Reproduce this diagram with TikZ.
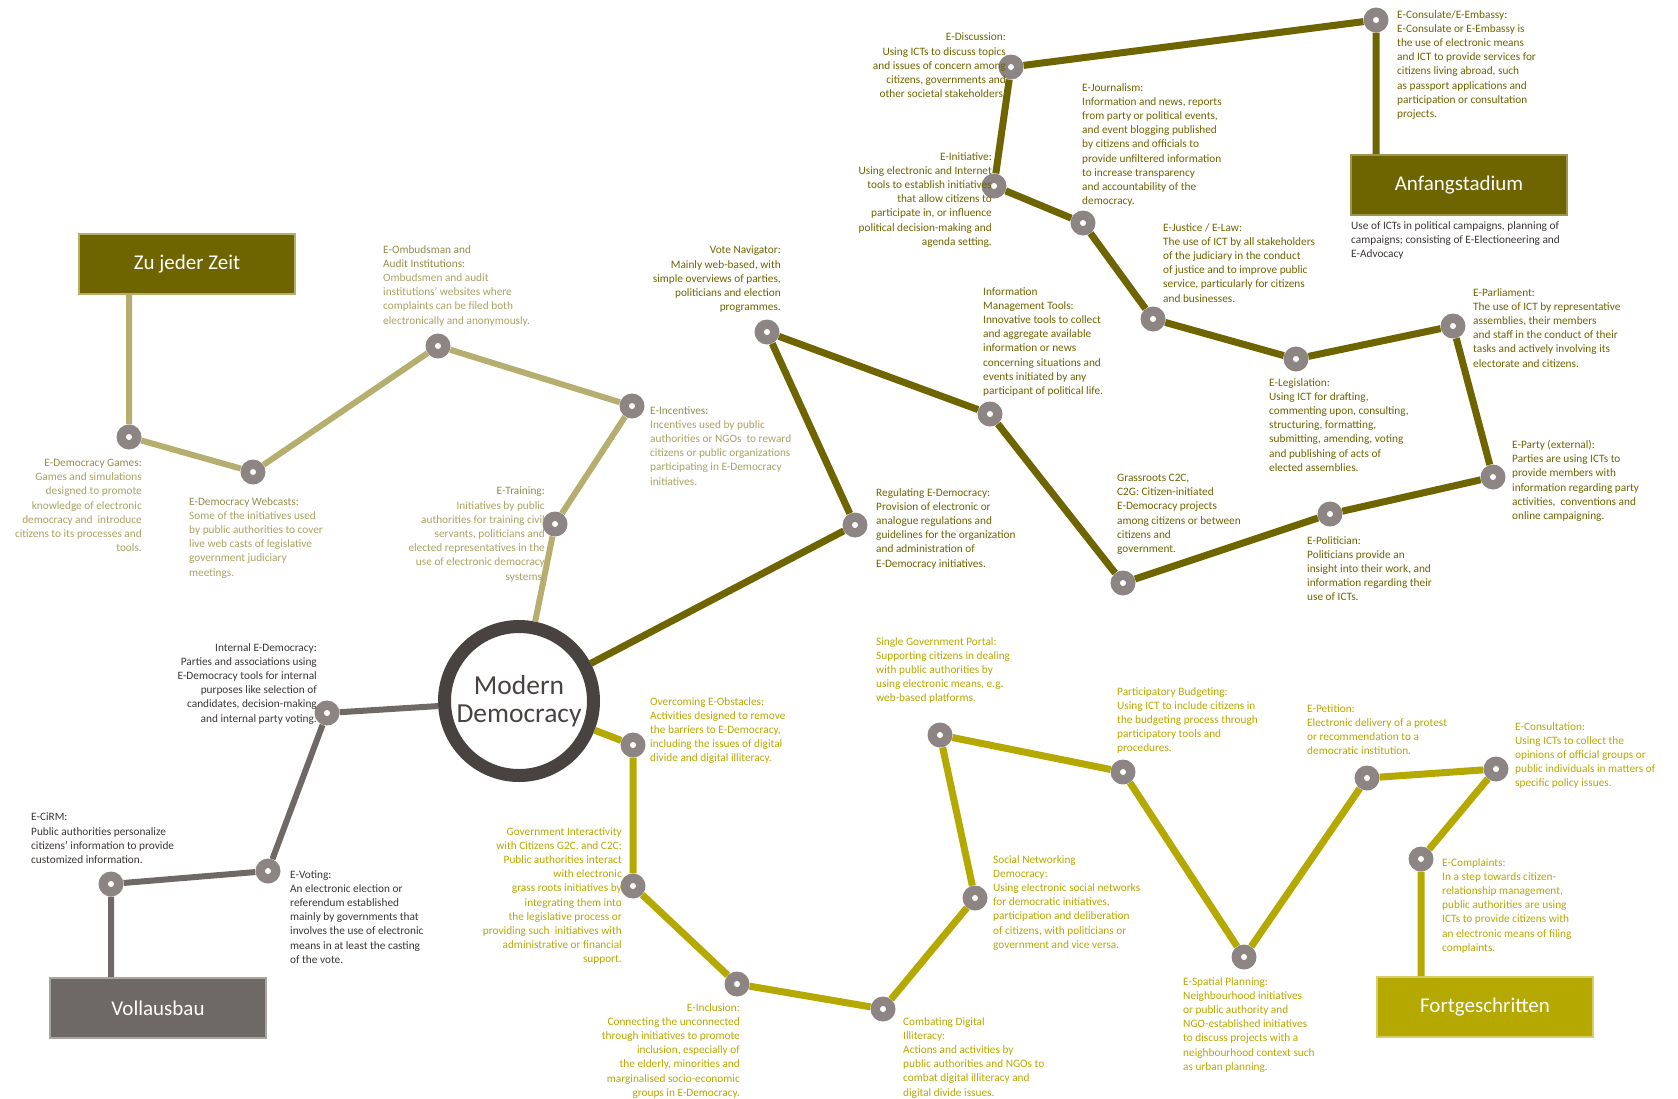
\documentclass[tikz,border=0pt]{standalone}
\usepackage{fontspec}
\setmainfont{Carlito}
\usepackage{tikz}
\usetikzlibrary{positioning}

\definecolor{zjzline}{HTML}{B5AE6E}
\definecolor{zjztext}{HTML}{A9A263}
\definecolor{zjzhead}{HTML}{948C4C}
\definecolor{anfline}{HTML}{6E6400}
\definecolor{anfborder}{HTML}{9E9650}
\definecolor{fortline}{HTML}{B5A800}
\definecolor{fortborder}{HTML}{D6CE66}
\definecolor{volline}{HTML}{6E6866}
\definecolor{volborder}{HTML}{A8A4A2}
\definecolor{voltext}{HTML}{3A3634}
\definecolor{dotgray}{HTML}{8C8584}
\definecolor{ringgray}{HTML}{484241}

\tikzset{
  dot/.style={circle, fill=dotgray, minimum size=25pt, inner sep=0pt,
    path picture={\fill[white] (path picture bounding box.center) circle (3pt);}},
  stagebox/.style={rectangle, minimum width=216pt, minimum height=60pt, line width=2pt,
    text=white, font=\fontsize{21}{25}\selectfont},
  txt/.style={inner sep=0pt, font=\fontsize{11.3}{14.2}\selectfont},
  txtl/.style={txt, anchor=north west, align=left},
  txtr/.style={txt, anchor=north east, align=right},
}

\begin{document}
\begin{tikzpicture}[x=1pt, y=-1pt]
    \useasboundingbox (0,0) rectangle (1678,1098);

    \node[circle, draw=ringgray, line width=13pt, minimum size=149pt, text=ringgray,
      align=center, font=\fontsize{27.5}{28.5}\selectfont] (md) at (519,701) {Modern\\Democracy};

    % stage boxes
    \node[stagebox, fill=anfline, draw=zjzline] (zjz) at (187,264) {Zu jeder Zeit};
    \node[stagebox, fill=anfline, draw=anfborder] (anf) at (1459,185) {Anfangstadium};
    \node[stagebox, fill=volline, draw=volborder] (voll) at (158,1008) {Vollausbau};
    \node[stagebox, fill=fortline, draw=fortborder] (fort) at (1485,1007) {Fortgeschritten};

    % points
    \node[dot] (games) at (129,437) {};
    \node[dot] (webcasts) at (253,472) {};
    \node[dot] (ombuds) at (438,346) {};
    \node[dot] (incent) at (632,406) {};
    \node[dot] (training) at (555,524) {};
    \node[dot] (internal) at (327,713) {};
    \node[dot] (voting) at (268,871) {};
    \node[dot] (cirm) at (111,884) {};
    \node[dot] (regul) at (855,525) {};
    \node[dot] (votenav) at (767,332) {};
    \node[dot] (infomgmt) at (990,414) {};
    \node[dot] (grass) at (1123,583) {};
    \node[dot] (politician) at (1330,514) {};
    \node[dot] (party) at (1493,477) {};
    \node[dot] (parliament) at (1453,326) {};
    \node[dot] (legislation) at (1296,359) {};
    \node[dot] (justice) at (1153,319) {};
    \node[dot] (journalism) at (1083,223) {};
    \node[dot] (initiative) at (994,186) {};
    \node[dot] (discussion) at (1011,67) {};
    \node[dot] (consulate) at (1376,20) {};
    \node[dot] (overcoming) at (633,745) {};
    \node[dot] (govint) at (633,886) {};
    \node[dot] (inclusion) at (737,984) {};
    \node[dot] (combating) at (883,1009) {};
    \node[dot] (social) at (975,898) {};
    \node[dot] (portal) at (940,735) {};
    \node[dot] (budget) at (1123,772) {};
    \node[dot] (spatial) at (1244,957) {};
    \node[dot] (petition) at (1367,778) {};
    \node[dot] (consultation) at (1496,769) {};
    \node[dot] (complaints) at (1421,859) {};

    % lines
    \draw[zjzline, line width=6pt] (md) -- (training) -- (incent) -- (ombuds) -- (webcasts) -- (games) -- (games |- zjz.south);
    \draw[volline, line width=6pt] (md) -- (internal) -- (voting) -- (cirm) -- (cirm |- voll.north);
    \draw[anfline, line width=7pt] (md) -- (regul) -- (votenav) -- (infomgmt) -- (grass) -- (politician) -- (party)
      -- (parliament) -- (legislation) -- (justice) -- (journalism) -- (initiative) -- (discussion) -- (consulate)
      -- (consulate |- anf.north);
    \draw[fortline, line width=7pt] (md) -- (overcoming) -- (govint) -- (inclusion) -- (combating) -- (social) -- (portal)
      -- (budget) -- (spatial) -- (petition) -- (consultation) -- (complaints) -- (complaints |- fort.north);

    % texts, Zu jeder Zeit
    \node[txtr, text=zjztext] (t-games) at (142,459) {\textcolor{zjzhead}{E-Democracy Games:}\\Games and simulations\\designed to promote\\knowledge of electronic\\democracy and \ introduce\\citizens to its processes and\\tools.};
    \node[txtl, text=zjztext] (t-webcasts) at (189,497) {\textcolor{zjzhead}{E-Democracy Webcasts:}\\Some of the initiatives used\\by public authorities to cover\\live web casts of legislative\\government judiciary\\meetings.};
    \node[txtl, text=zjztext] (t-ombuds) at (383,245) {\textcolor{zjzhead}{E-Ombudsman and}\\\textcolor{zjzhead}{Audit Institutions:}\\Ombudsmen and audit\\institutions’ websites where\\complaints can be filed both\\electronically and anonymously.};
    \node[txtl, text=zjztext] (t-incent) at (650,406) {\textcolor{zjzhead}{E-Incentives:}\\Incentives used by public\\authorities or NGOs \ to reward\\citizens or public organizations\\participating in E-Democracy\\initiatives.};
    \node[txtr, text=zjztext] (t-training) at (545,487) {\textcolor{zjzhead}{E-Training:}\\Initiatives by public\\authorities for training civil\\servants, politicians and\\elected representatives in the\\use of electronic democracy\\systems.};

    % texts, Anfangstadium
    \node[txtr, text=anfline] (t-votenav) at (781,246) {Vote Navigator:\\Mainly web-based, with\\simple overviews of parties,\\politicians and election\\programmes.};
    \node[txtr, text=anfline] (t-discussion) at (1006,33) {E-Discussion:\\Using ICTs to discuss topics\\and issues of concern among\\citizens, governments and\\other societal stakeholders.};
    \node[txtr, text=anfline] (t-initiative) at (992,152) {E-Initiative:\\Using electronic and Internet\\tools to establish initiatives\\that allow citizens to\\participate in, or influence\\political decision-making and\\agenda setting.};
    \node[txtl, text=anfline] (t-journalism) at (1082,83) {E-Journalism:\\Information and news, reports\\from party or political events,\\and event blogging published\\by citizens and officials to\\provide unfiltered information\\to increase transparency\\and accountability of the\\democracy.};
    \node[txtl, text=anfline] (t-justice) at (1163,223) {E-Justice / E-Law:\\The use of ICT by all stakeholders\\of the judiciary in the conduct\\of justice and to improve public\\service, particularly for citizens\\and businesses.};
    \node[txtl, text=anfline] (t-infomgmt) at (983,287) {Information\\Management Tools:\\Innovative tools to collect\\and aggregate available\\information or news\\concerning situations and\\events initiated by any\\participant of political life.};
    \node[txtl, text=anfline] (t-consulate) at (1397,10) {E-Consulate/E-Embassy:\\E-Consulate or E-Embassy is\\the use of electronic means\\and ICT to provide services for\\citizens living abroad, such\\as passport applications and\\participation or consultation\\projects.};
    \node[txtl, text=voltext] (t-anf) at (1351,221) {Use of ICTs in political campaigns, planning of\\campaigns; consisting of E-Electioneering and\\E-Advocacy};
    \node[txtl, text=anfline] (t-parliament) at (1473,288) {E-Parliament:\\The use of ICT by representative\\assemblies, their members\\and staff in the conduct of their\\tasks and actively involving its\\electorate and citizens.};
    \node[txtl, text=anfline] (t-legislation) at (1269,378) {E-Legislation:\\Using ICT for drafting,\\commenting upon, consulting,\\structuring, formatting,\\submitting, amending, voting\\and publishing of acts of\\elected assemblies.};
    \node[txtl, text=anfline] (t-party) at (1512,440) {E-Party (external):\\Parties are using ICTs to\\provide members with\\information regarding party\\activities, \ conventions and\\online campaigning.};
    \node[txtl, text=anfline] (t-politician) at (1307,536) {E-Politician:\\Politicians provide an\\insight into their work, and\\information regarding their\\use of ICTs.};
    \node[txtl, text=anfline] (t-grass) at (1117,474) {Grassroots C2C,\\C2G: Citizen-initiated\\E-Democracy projects\\among citizens or between\\citizens and\\government.};
    \node[txtl, text=anfline] (t-regul) at (876,488) {Regulating E-Democracy:\\Provision of electronic or\\analogue regulations and\\guidelines for the organization\\and administration of\\E-Democracy initiatives.};

    % texts, Vollausbau
    \node[txtr, text=voltext] (t-internal) at (317,643) {Internal E-Democracy:\\Parties and associations using\\E-Democracy tools for internal\\purposes like selection of\\candidates, decision-making\\and internal party voting.};
    \node[txtl, text=voltext] (t-cirm) at (31,813) {E-CiRM:\\Public authorities personalize\\citizens’ information to provide\\customized information.};
    \node[txtl, text=voltext] (t-voting) at (290,870) {E-Voting:\\An electronic election or\\referendum established\\mainly by governments that\\involves the use of electronic\\means in at least the casting\\of the vote.};

    % texts, Fortgeschritten
    \node[txtl, text=fortline] (t-overcoming) at (650,697) {Overcoming E-Obstacles:\\Activities designed to remove\\the barriers to E-Democracy,\\including the issues of digital\\divide and digital illiteracy.};
    \node[txtr, text=fortline] (t-govint) at (622,827) {Government Interactivity\\with Citizens G2C, and C2C:\\Public authorities interact\\with electronic\\grass roots initiatives by\\integrating them into\\the legislative process or\\providing such \ initiatives with\\administrative or financial\\support.};
    \node[txtr, text=fortline] (t-inclusion) at (740,1003) {E-Inclusion:\\Connecting the unconnected\\through initiatives to promote\\inclusion, especially of\\the elderly, minorities and\\marginalised socio-economic\\groups in E-Democracy.};
    \node[txtl, text=fortline] (t-combating) at (903,1017) {Combating Digital\\Illiteracy:\\Actions and activities by\\public authorities and NGOs to\\combat digital illiteracy and\\digital divide issues.};
    \node[txtl, text=fortline] (t-social) at (993,855) {Social Networking\\Democracy:\\Using electronic social networks\\for democratic initiatives,\\participation and deliberation\\of citizens, with politicians or\\government and vice versa.};
    \node[txtl, text=fortline] (t-portal) at (876,637) {Single Government Portal:\\Supporting citizens in dealing\\with public authorities by\\using electronic means, e.g.\\web-based platforms.};
    \node[txtl, text=fortline] (t-budget) at (1117,687) {Participatory Budgeting:\\Using ICT to include citizens in\\the budgeting process through\\participatory tools and\\procedures.};
    \node[txtl, text=fortline] (t-spatial) at (1183,977) {E-Spatial Planning:\\Neighbourhood initiatives\\or public authority and\\NGO-established initiatives\\to discuss projects with a\\neighbourhood context such\\as urban planning.};
    \node[txtl, text=fortline] (t-petition) at (1307,704) {E-Petition:\\Electronic delivery of a protest\\or recommendation to a\\democratic institution.};
    \node[txtl, text=fortline] (t-consultation) at (1515,722) {E-Consultation:\\Using ICTs to collect the\\opinions of official groups or\\public individuals in matters of\\specific policy issues.};
    \node[txtl, text=fortline] (t-complaints) at (1442,858) {E-Complaints:\\In a step towards citizen-\\relationship management,\\public authorities are using\\ICTs to provide citizens with\\an electronic means of filing\\complaints.};
\end{tikzpicture}
\end{document}
